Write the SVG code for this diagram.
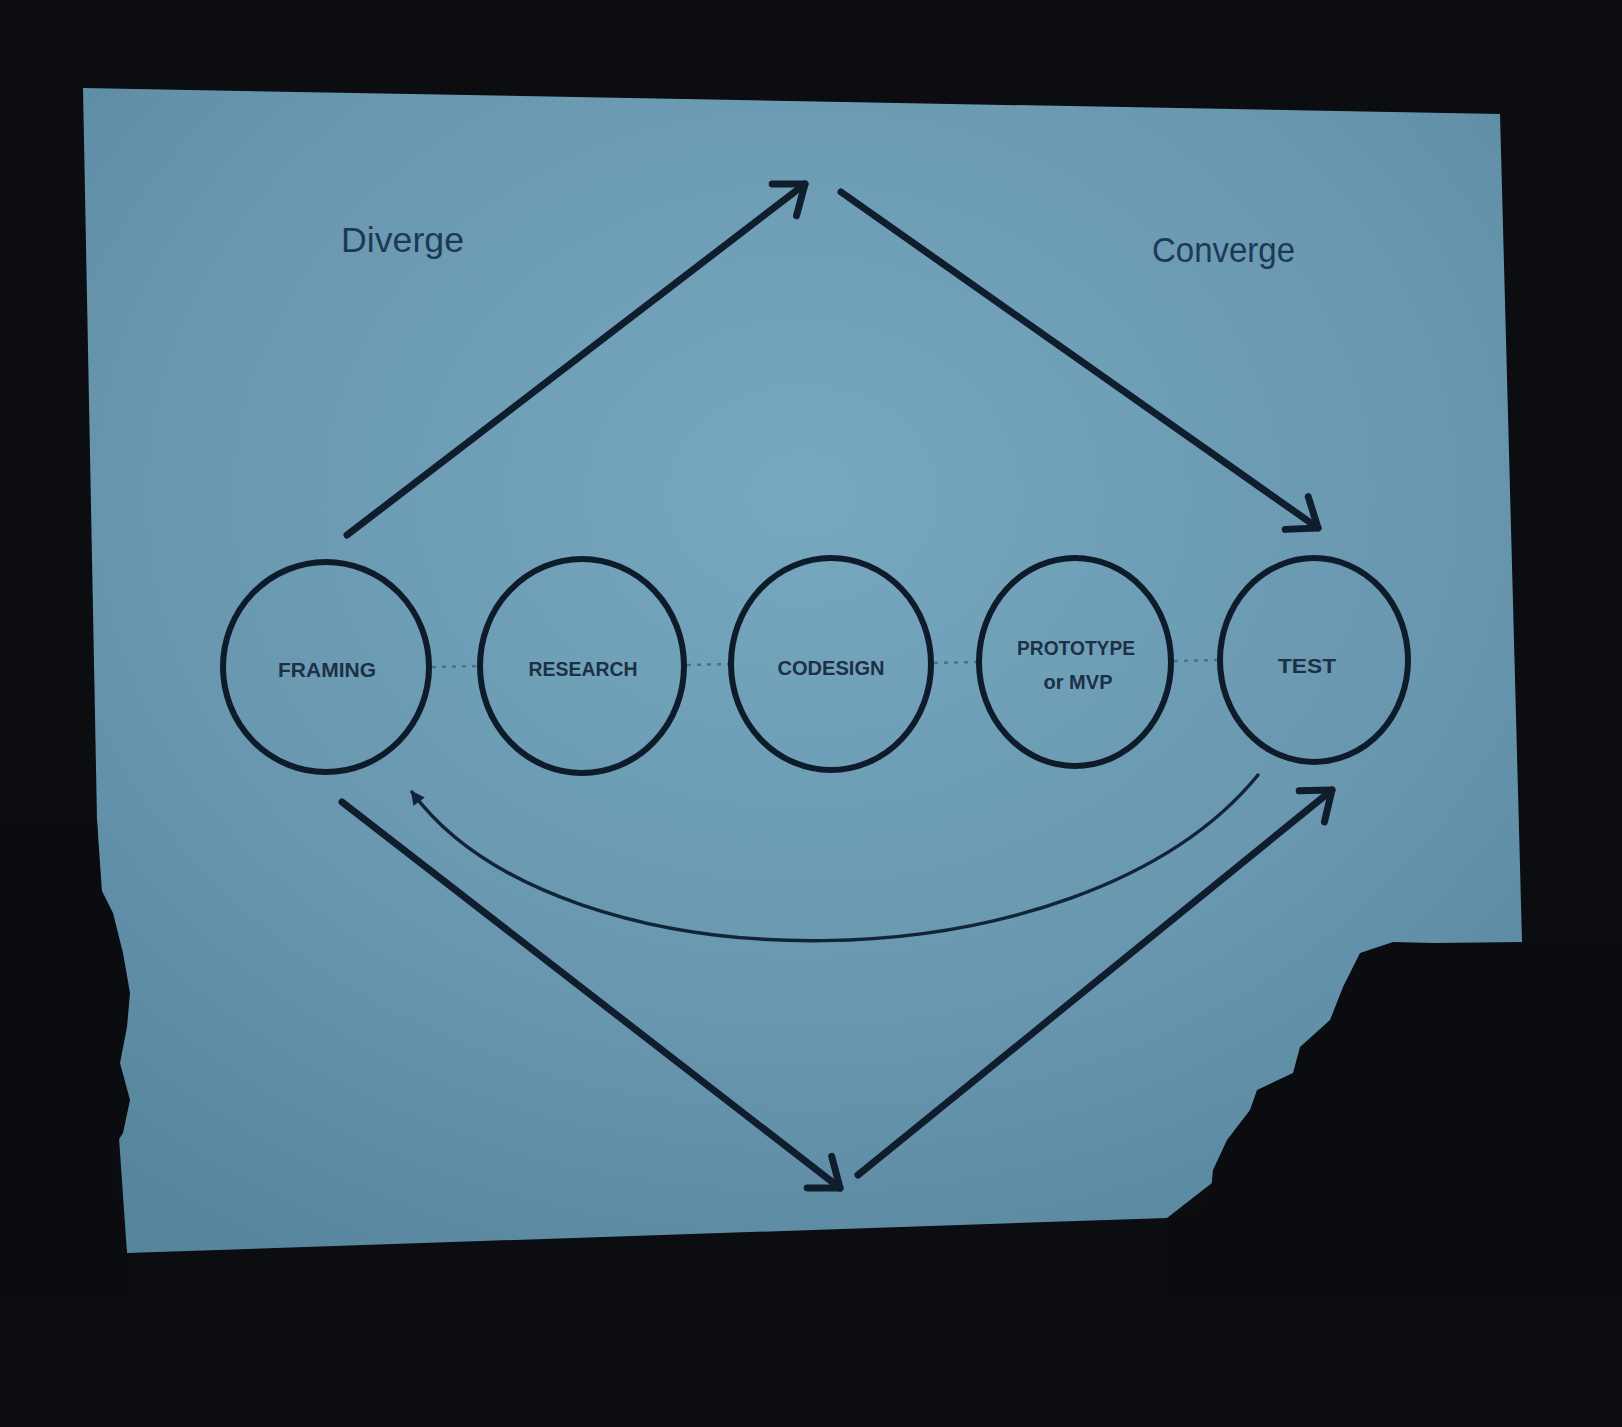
<svg xmlns="http://www.w3.org/2000/svg" width="1622" height="1427" viewBox="0 0 1622 1427">
<defs>
<radialGradient id="slideBg" cx="0.5" cy="0.35" r="0.75">
<stop offset="0" stop-color="#77a8bf"/>
<stop offset="0.6" stop-color="#6897af"/>
<stop offset="1" stop-color="#56859d"/>
</radialGradient>
<marker id="chev" markerUnits="userSpaceOnUse" viewBox="-32 -26 40 52" markerWidth="40" markerHeight="52" refX="0" refY="0" orient="auto">
<path d="M -26 -20 L 0 0 L -26 20" fill="none" stroke="#0f1d2c" stroke-width="7" stroke-linecap="round" stroke-linejoin="round"/>
</marker>
<marker id="small" markerUnits="userSpaceOnUse" viewBox="-16 -10 20 20" markerWidth="20" markerHeight="20" refX="0" refY="0" orient="auto">
<path d="M -12 -7 L 2 0 L -12 7 Z" fill="#13233a"/>
</marker>
<style>
.line{fill:none;stroke:#0f1d2c;stroke-width:7;stroke-linecap:round}
.ring{fill:none;stroke:#0e1b2a;stroke-width:6}
.dots{fill:none;stroke:#46738c;stroke-width:2.5;stroke-dasharray:4 6}
.lbl{font-family:"Liberation Sans",Arial,sans-serif;font-weight:bold;font-size:20px;fill:#1c3046;text-anchor:middle}
.head{font-family:"Liberation Sans",Arial,sans-serif;font-size:35px;fill:#1c3a55}
</style>
</defs>
<rect x="0" y="0" width="1622" height="1427" fill="#0b0d10"/>
<polygon id="slide" points="83,88 1500,114 1522,942 1167,1218 127,1253 97,820" fill="url(#slideBg)"/>
<path id="head-left" d="M0,820 L97,820 L100,887 L113,913 L123,953 L130,993 L127,1027 L120,1063 L130,1100 L123,1133 L110,1153 L113,1180 L127,1253 L127,1300 L0,1300 Z" fill="#0a0c0f"/>
<path id="head-right" d="M1522,942 L1433,943 L1393,942 L1360,953 L1343,987 L1330,1020 L1300,1047 L1293,1073 L1257,1090 L1250,1110 L1227,1140 L1213,1170 L1210,1200 L1200,1213 L1167,1218 L1167,1300 L1622,1300 L1622,942 Z" fill="#0a0c0f"/>

<text class="head" x="341" y="252" textLength="123" lengthAdjust="spacingAndGlyphs">Diverge</text>
<text class="head" x="1152" y="262" textLength="143" lengthAdjust="spacingAndGlyphs">Converge</text>

<g id="connectors">
<path class="line" d="M347,535 L805,184" marker-end="url(#chev)"/>
<path class="line" d="M841,192 L1318,528" marker-end="url(#chev)"/>
<path class="line" d="M342,802 L840,1188" marker-end="url(#chev)"/>
<path class="line" d="M858,1175 L1332,790" marker-end="url(#chev)"/>
<path d="M1258,775 C1080,993 560,993 412,792" fill="none" stroke="#13233a" stroke-width="3.5" stroke-linecap="round" marker-end="url(#small)"/>
<path class="dots" d="M432,667 L478,666"/>
<path class="dots" d="M687,665 L729,664"/>
<path class="dots" d="M934,663 L977,662"/>
<path class="dots" d="M1174,661 L1218,660"/>
</g>

<g id="node-framing">
<ellipse class="ring" cx="326" cy="667" rx="103" ry="105"/>
<text class="lbl" x="327" y="677" textLength="98" lengthAdjust="spacingAndGlyphs">FRAMING</text>
</g>
<g id="node-research">
<ellipse class="ring" cx="582" cy="666" rx="102" ry="107"/>
<text class="lbl" x="583" y="676" textLength="109" lengthAdjust="spacingAndGlyphs">RESEARCH</text>
</g>
<g id="node-codesign">
<ellipse class="ring" cx="831" cy="664" rx="100" ry="106"/>
<text class="lbl" x="831" y="675" textLength="107" lengthAdjust="spacingAndGlyphs">CODESIGN</text>
</g>
<g id="node-prototype">
<ellipse class="ring" cx="1075" cy="662" rx="96" ry="104"/>
<text class="lbl" x="1076" y="655" textLength="118" lengthAdjust="spacingAndGlyphs">PROTOTYPE</text>
<text class="lbl" x="1078" y="689" textLength="69" lengthAdjust="spacingAndGlyphs">or MVP</text>
</g>
<g id="node-test">
<ellipse class="ring" cx="1314" cy="660" rx="94" ry="102"/>
<text class="lbl" x="1307" y="673" textLength="58" lengthAdjust="spacingAndGlyphs">TEST</text>
</g>
</svg>
